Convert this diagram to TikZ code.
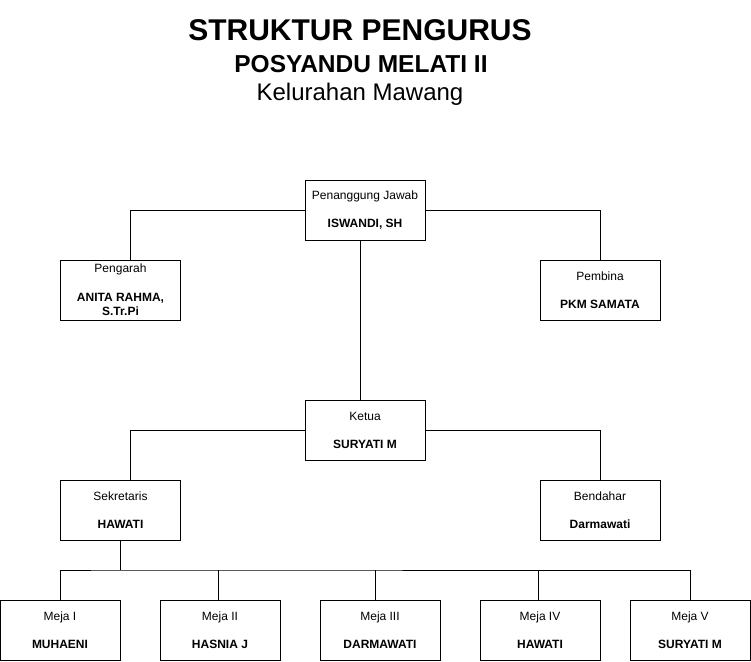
\documentclass[tikz,border=0pt]{standalone}
\usepackage{fontspec}
\setmainfont{Liberation Sans}
\usepackage{tikz}
\usetikzlibrary{positioning}

\begin{document}
\begin{tikzpicture}[
  x=1pt, y=-1pt,
  line width=1pt,
  box/.style={draw=black, fill=white, minimum width=120pt, minimum height=60pt,
    align=center, inner sep=0pt, font=\fontsize{12}{14}\selectfont},
  link/.style={draw=black, line width=1pt},
]
\useasboundingbox (0,0) rectangle (751,661);
% ---------------- title ----------------
\node[anchor=base, font=\fontsize{30}{34}\selectfont\bfseries] (title) at (360,41) {STRUKTUR PENGURUS};
\node[anchor=base, font=\fontsize{24.5}{28}\selectfont\bfseries] (sub) at (361,72) {POSYANDU MELATI II};
\node[anchor=base, font=\fontsize{24}{28}\selectfont] (place) at (360,100) {Kelurahan Mawang};
% ---------------- top level ----------------
\node[box] (pj) at (365,210) {Penanggung Jawab\\[14pt]\textbf{ISWANDI, SH}};
\node[box] (pengarah) at (120.5,290) {Pengarah\\[15pt]\textbf{ANITA RAHMA,}\\\textbf{S.Tr.Pi}};
\node[box] (pembina) at (600,290) {Pembina\\[14pt]\textbf{PKM SAMATA}};
% ---------------- ketua level ----------------
\node[box] (ketua) at (365,430) {Ketua\\[14pt]\textbf{SURYATI M}};
\node[box] (sek) at (120.5,510) {Sekretaris\\[14pt]\textbf{HAWATI}};
\node[box] (bend) at (600,510) {Bendahar\\[14pt]\textbf{Darmawati}};
% ---------------- meja ----------------
\node[box] (m1) at (60,630) {Meja I\\[14pt]\textbf{MUHAENI}};
\node[box] (m2) at (220,630) {Meja II\\[14pt]\textbf{HASNIA J}};
\node[box] (m3) at (380,630) {Meja III\\[14pt]\textbf{DARMAWATI}};
\node[box] (m4) at (540,630) {Meja IV\\[14pt]\textbf{HAWATI}};
\node[box] (m5) at (690,630) {Meja V\\[14pt]\textbf{SURYATI M}};
% ---------------- connectors ----------------
\draw[link] (pj.west) -| ([xshift=10pt]pengarah.north);
\draw[link] (pj.east) -| (pembina.north);
\draw[link] ([xshift=-5pt]pj.south) -- ([xshift=-5pt]ketua.north);
\draw[link] (ketua.west) -| ([xshift=10pt]sek.north);
\draw[link] (ketua.east) -| (bend.north);
\coordinate (bus) at (sek.south |- 0,570);
\draw[link] (sek.south) -- (bus);
\draw[link] (m1.north) |- (bus) -| (m5.north);
\draw[link] ([xshift=-2pt]m2.north) -- ([xshift=-2pt]m2.north |- bus);
\draw[link] ([xshift=-5pt]m3.north) -- ([xshift=-5pt]m3.north |- bus);
\draw[link] ([xshift=-2pt]m4.north) -- ([xshift=-2pt]m4.north |- bus);
\end{tikzpicture}
\end{document}
